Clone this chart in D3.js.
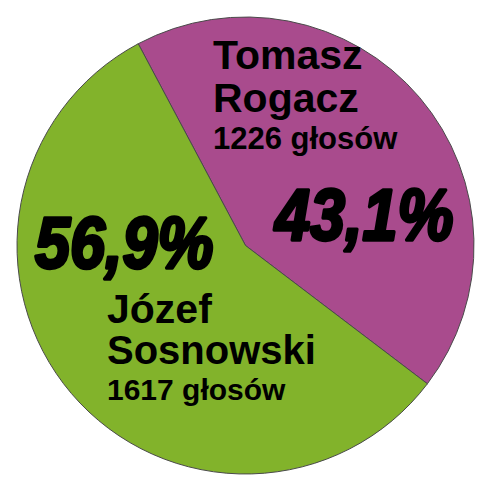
<!DOCTYPE html>
<html><head><meta charset="utf-8">
<script src="https://cdn.jsdelivr.net/npm/d3@7"></script>
<style>html,body{margin:0;padding:0;background:#fff;}svg{display:block;}</style>
</head><body>
<svg id="chart" width="500" height="490"></svg>
<script>
const candidates = ["Tomasz Rogacz", "Józef Sosnowski"];
const firstNames = ["Tomasz", "Józef"];
const lastNames = ["Rogacz", "Sosnowski"];
const votes = [1226, 1617];
const percentLabels = ["43,1%", "56,9%"];
const colors = ["#a94b8d", "#82b32b"];

const svg = d3.select("#chart");
const cx = 245.5, cy = 245.5, r = 228.5;
const start = -28 * Math.PI / 180;

const pie = d3.pie().sort(null).startAngle(start).endAngle(start + 2 * Math.PI);
const arcs = pie(votes);
const arc = d3.arc().innerRadius(0).outerRadius(r);

const g = svg.append("g").attr("transform", `translate(${cx},${cy})`);
g.selectAll("path").data(arcs).enter().append("path")
  .attr("d", arc)
  .attr("fill", (d, i) => colors[i])
  .attr("stroke", "#4a4a4a")
  .attr("stroke-width", 1);

// label layout (positions only)
const layout = [
  { x: 213, name1Y: 69, name2Y: 112, votesY: 149, pctX: 275, pctY: 240 },
  { x: 107, name1Y: 323, name2Y: 364, votesY: 400, pctX: 35, pctY: 268 }
];
const font = "'Liberation Sans', Arial, Helvetica, sans-serif";

layout.forEach((L, i) => {
  svg.append("text").attr("x", L.x).attr("y", L.name1Y)
    .attr("font-family", font).attr("font-weight", "bold").attr("font-size", 41)
    .attr("fill", "#000").text(firstNames[i]);
  svg.append("text").attr("x", L.x).attr("y", L.name2Y)
    .attr("font-family", font).attr("font-weight", "bold").attr("font-size", i === 1 ? 40 : 41)
    .attr("fill", "#000").text(lastNames[i]);
  svg.append("text").attr("x", L.x).attr("y", L.votesY)
    .attr("font-family", font).attr("font-weight", "bold").attr("font-size", i === 1 ? 30 : 31)
    .attr("fill", "#000").text(votes[i] + " głosów");
  svg.append("text")
    .attr("transform", `translate(${L.pctX},${L.pctY}) scale(1,1.15)`)
    .attr("font-family", font).attr("font-weight", "bold").attr("font-style", "italic")
    .attr("font-size", 63)
    .attr("fill", "#000").attr("stroke", "#000").attr("stroke-width", 3)
    .attr("stroke-linejoin", "round")
    .text(percentLabels[i]);
});
</script>
</body></html>
